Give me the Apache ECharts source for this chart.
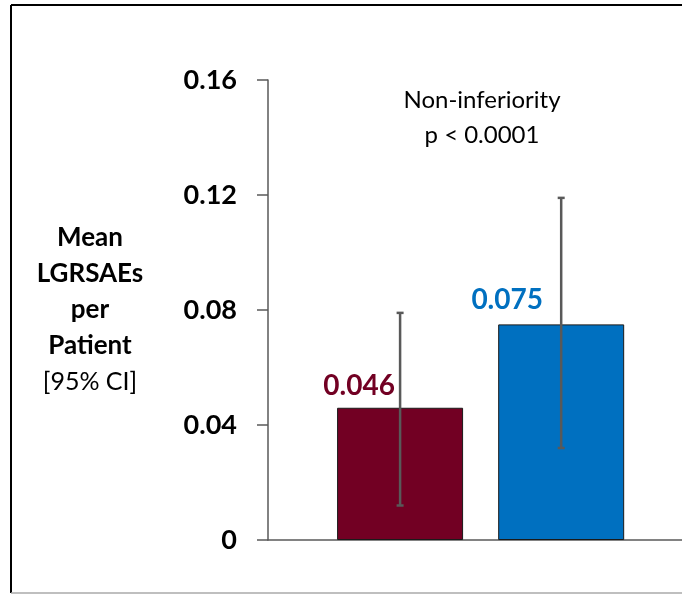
<!DOCTYPE html>
<html lang="en">
<head>
    <meta charset="UTF-8">
    <title>LGRSAEs per Patient</title>
    <script src="https://cdn.jsdelivr.net/npm/echarts@6/dist/echarts.min.js"></script>
    <style>
        html, body { margin: 0; padding: 0; background: #fff; }
    </style>
</head>
<body>
<div id="chart" style="width: 682px; height: 595px;"></div>
<script type="text/javascript">
    // bar positions on the x value axis (no category labels shown)
    var barX = [1, 2];
    var means = [0.046, 0.075];
    var ciLow = [0.012, 0.032];
    var ciHigh = [0.079, 0.119];
    var barColors = ['#720023', '#0070C0'];
    var yTicks = [0, 0.04, 0.08, 0.12, 0.16];

    var FONT = 'Lato';
    var chart = echarts.init(document.getElementById('chart'));

    var barData = barX.map(function (x, i) {
        return {
            value: [x, means[i]],
            itemStyle: { color: barColors[i] },
            label: { color: barColors[i], offset: i === 0 ? [-41, -3] : [-54, -5] }
        };
    });
    var errData = barX.map(function (x, i) { return [x, ciLow[i], ciHigh[i]]; });

    var option = {
        animation: false,
        grid: { left: 268, right: 0, top: 80, bottom: 55 },
        xAxis: {
            type: 'value',
            min: 0.18,
            max: 2.75,
            axisLine: { show: true, lineStyle: { color: '#595959', width: 1.5 } },
            axisTick: { show: false },
            axisLabel: { show: false },
            splitLine: { show: false }
        },
        yAxis: {
            type: 'value',
            min: yTicks[0],
            max: yTicks[yTicks.length - 1],
            interval: 0.04,
            axisLine: { show: true, lineStyle: { color: '#595959', width: 1.5 } },
            axisTick: { show: true, length: 11, lineStyle: { color: '#595959', width: 1.5 } },
            splitLine: { show: false },
            axisLabel: {
                margin: 31,
                fontFamily: FONT,
                fontWeight: 'bold',
                fontSize: 27,
                color: '#000',
                formatter: function (v) { return v === 0 ? '0' : v.toFixed(2); }
            }
        },
        series: [
            {
                type: 'bar',
                barWidth: 126,
                data: barData,
                itemStyle: { borderColor: '#1a1a1a', borderWidth: 1 },
                label: {
                    show: true,
                    position: 'top',
                    fontFamily: FONT,
                    fontWeight: 'bold',
                    fontSize: 28,
                    formatter: function (p) { return p.value[1].toFixed(3); }
                }
            },
            {
                type: 'custom',
                data: errData,
                z: 10,
                renderItem: function (params, api) {
                    var x = api.value(0);
                    var lo = api.coord([x, api.value(1)]);
                    var hi = api.coord([x, api.value(2)]);
                    var cap = 3.5;
                    var st = { stroke: '#595959', lineWidth: 2.5 };
                    return {
                        type: 'group',
                        children: [
                            { type: 'line', shape: { x1: lo[0], y1: lo[1], x2: hi[0], y2: hi[1] }, style: st },
                            { type: 'line', shape: { x1: lo[0] - cap, y1: lo[1], x2: lo[0] + cap, y2: lo[1] }, style: st },
                            { type: 'line', shape: { x1: hi[0] - cap, y1: hi[1], x2: hi[0] + cap, y2: hi[1] }, style: st }
                        ]
                    };
                }
            }
        ],
        graphic: [
            // frame
            { type: 'line', shape: { x1: 11, y1: 5, x2: 682, y2: 5 }, style: { stroke: '#000', lineWidth: 2 } },
            { type: 'line', shape: { x1: 11, y1: 5, x2: 11, y2: 593 }, style: { stroke: '#000', lineWidth: 2 } },
            { type: 'line', shape: { x1: 11, y1: 593, x2: 682, y2: 593 }, style: { stroke: '#aaa', lineWidth: 1.5 } },
            {
                type: 'text',
                x: 90,
                y: 220,
                style: {
                    text: '{b|Mean}\n{b|LGRSAEs}\n{b|per}\n{b|Patient}\n{n|[95% CI]}',
                    align: 'center',
                    verticalAlign: 'top',
                    rich: {
                        b: { fontFamily: FONT, fontWeight: 'bold', fontSize: 26, lineHeight: 36, fill: '#000', align: 'center' },
                        n: { fontFamily: FONT, fontSize: 25, lineHeight: 36, fill: '#000', align: 'center' }
                    }
                }
            },
            {
                type: 'text',
                x: 482,
                y: 83,
                style: {
                    text: 'Non-inferiority\np < 0.0001',
                    fontFamily: FONT,
                    fontSize: 24,
                    lineHeight: 35,
                    align: 'center',
                    verticalAlign: 'top',
                    fill: '#000'
                }
            }
        ]
    };

    chart.setOption(option);
</script>
</body>
</html>
